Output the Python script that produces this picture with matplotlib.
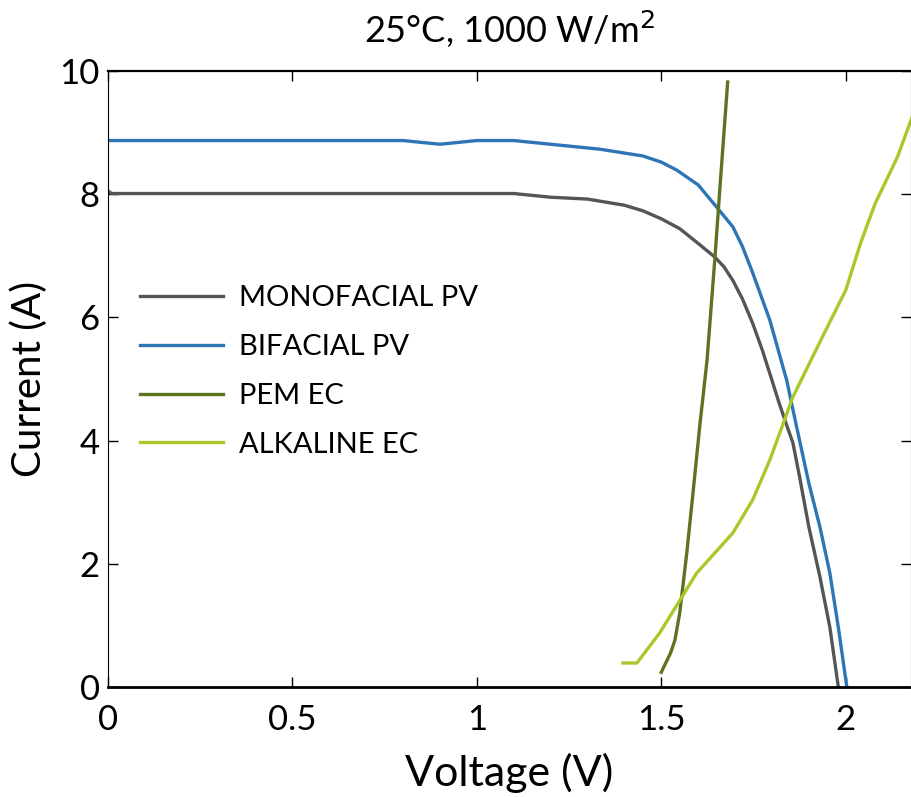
import matplotlib
matplotlib.use("Agg")
import matplotlib.pyplot as plt

plt.rcParams['font.family'] = ['Lato', 'DejaVu Sans']

# data
mono_v = [0.0, 0.01, 0.2, 0.5, 0.8, 1.1, 1.2, 1.3, 1.4, 1.45, 1.5, 1.55, 1.6, 1.645, 1.67, 1.694,
          1.72, 1.748, 1.775, 1.80, 1.82, 1.84, 1.857, 1.875, 1.90, 1.93, 1.957, 1.98]
mono_i = [8.05, 8.01, 8.01, 8.01, 8.01, 8.01, 7.95, 7.92, 7.82, 7.73, 7.6, 7.44, 7.2, 6.98, 6.82, 6.6,
          6.3, 5.9, 5.45, 4.98, 4.6, 4.25, 3.96, 3.41, 2.6, 1.79, 0.97, 0.0]

bi_v = [0.0, 0.2, 0.5, 0.8, 0.9, 1.0, 1.1, 1.2, 1.333, 1.45, 1.5, 1.542, 1.6, 1.65, 1.694,
        1.72, 1.748, 1.794, 1.84, 1.867, 1.90, 1.93, 1.957, 1.98, 2.003]
bi_i = [8.87, 8.87, 8.87, 8.87, 8.81, 8.87, 8.87, 8.81, 8.73, 8.62, 8.52, 8.39, 8.15, 7.79, 7.47,
        7.15, 6.72, 5.96, 4.98, 4.22, 3.31, 2.6, 1.85, 0.97, 0.0]

pem_v = [1.50, 1.525, 1.537, 1.55, 1.569, 1.586, 1.604, 1.624, 1.645, 1.658, 1.68]
pem_i = [0.24, 0.55, 0.76, 1.2, 2.17, 3.15, 4.22, 5.3, 6.93, 8.02, 9.82]

alk_v = [1.396, 1.434, 1.496, 1.596, 1.694, 1.748, 1.794, 1.857, 1.93, 2.0, 2.04, 2.08, 2.14, 2.18]
alk_i = [0.39, 0.39, 0.88, 1.85, 2.5, 3.04, 3.68, 4.71, 5.6, 6.44, 7.2, 7.85, 8.6, 9.25]

labels = ["MONOFACIAL PV", "BIFACIAL PV", "PEM EC", "ALKALINE EC"]
colors = ["#555555", "#2E75B6", "#5E7320", "#A9C82A"]

fig = plt.figure(figsize=(9.12, 7.97), dpi=100)
ax = fig.add_axes([0.1184, 0.138, 0.8805, 0.773])

for v, i, lab, c in zip([mono_v, bi_v, pem_v, alk_v], [mono_i, bi_i, pem_i, alk_i], labels, colors):
    ax.plot(v, i, color=c, lw=2.4, label=lab)

ax.set_xlim(0, 2.177)
ax.set_ylim(0, 10)
ax.set_xticks([0, 0.5, 1, 1.5, 2])
ax.set_xticklabels(["0", "0.5", "1", "1.5", "2"])
ax.set_yticks([0, 2, 4, 6, 8, 10])
ax.tick_params(direction='in', top=True, right=True, length=7, width=1, labelsize=25)
ax.tick_params(axis='x', pad=12)
ax.tick_params(axis='y', pad=6)
ax.spines['bottom'].set_linewidth(2)
ax.spines['top'].set_linewidth(1.6)
ax.spines['left'].set_linewidth(0.8)
ax.spines['right'].set_linewidth(0.8)

ax.set_xlabel('Voltage (V)', fontsize=31, labelpad=12)
ax.set_ylabel('Current (A)', fontsize=29, labelpad=8)
ax.set_title('25°C, 1000 W/m$^2$', fontsize=26, pad=20)

ax.legend(loc='upper left', bbox_to_anchor=(0.04, 0.652), frameon=False, fontsize=21,
          handlelength=2.85, handletextpad=0.55, labelspacing=0.78, borderpad=0,
          borderaxespad=0)

fig.savefig('out.png', dpi=100)
